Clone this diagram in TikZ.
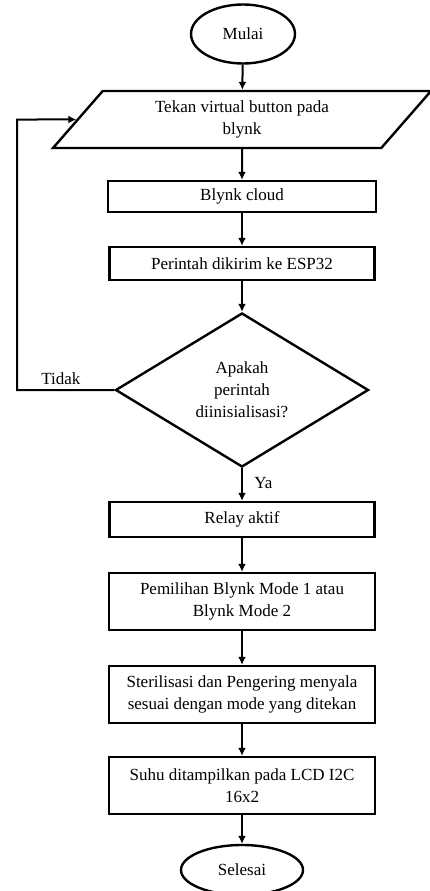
\documentclass[tikz,border=0pt]{standalone}
\usepackage{fontspec}
\setmainfont{Liberation Serif}
\usetikzlibrary{shapes.geometric,arrows.meta}

\begin{document}
\begin{tikzpicture}[x=1pt,y=-1pt]

      \useasboundingbox (0,0) rectangle (430,891);

      \begin{scope}[every node/.style={draw,line width=2.4pt,align=center,font=\fontsize{17}{22}\selectfont}]
        \node[ellipse,minimum width=104pt,minimum height=59pt] (mulai) at (243,34) {Mulai};
        \node[trapezium,trapezium left angle=37,trapezium right angle=143,trapezium stretches body,
              minimum width=378pt,minimum height=57pt,inner sep=0pt] (tekan) at (242,119.5) {Tekan virtual button pada\\blynk};
        \node[minimum width=268pt,minimum height=31pt] (cloud) at (242,196.5) {Blynk cloud};
        \node[minimum width=265pt,minimum height=33pt] (kirim) at (242,263.5) {Perintah dikirim ke ESP32};
        \node[diamond,aspect=1.64,inner sep=0pt,minimum width=253pt,minimum height=154pt] (tanya) at (242,390) {Apakah\\perintah\\diinisialisasi?};
        \node[minimum width=265pt,minimum height=35pt] (relay) at (242,519.5) {Relay aktif};
        \node[minimum width=266pt,minimum height=57pt] (pilih) at (242,601.5) {Pemilihan Blynk Mode 1 atau\\Blynk Mode 2};
        \node[minimum width=266pt,minimum height=57pt] (steril) at (242,694.5) {Sterilisasi dan Pengering menyala\\sesuai dengan mode yang ditekan};
        \node[minimum width=266pt,minimum height=57pt] (suhu) at (242,785.5) {Suhu ditampilkan pada LCD I2C\\16x2};
        \node[ellipse,minimum width=122pt,minimum height=50pt] (selesai) at (242,870) {Selesai};
      \end{scope}

      \coordinate (belok1) at (17,390);
      \coordinate (belok2) at (17,119.5);

      \begin{scope}[every node/.style={font=\fontsize{17}{22}\selectfont}]

        \begin{scope}[every edge/.style={draw,line width=2pt,-{Latex[length=8pt,width=8pt]}}]
          \path (mulai)  edge (tekan);
          \path (tekan)  edge (cloud);
          \path (cloud)  edge (kirim);
          \path (kirim)  edge (tanya);
          \path (tanya)  edge node[right=8pt,pos=.45] {Ya} (relay);
          \path (relay)  edge (pilih);
          \path (pilih)  edge (steril);
          \path (steril) edge (suhu);
          \path (suhu)   edge (selesai);
        \end{scope}

        \draw[line width=2pt,-{Latex[length=8pt,width=8pt]}] (tanya.west) -- node[above=1pt,pos=.55] {Tidak} (belok1) -- (belok2) -- (tekan.west);
      \end{scope}

    \end{tikzpicture}
\end{document}
